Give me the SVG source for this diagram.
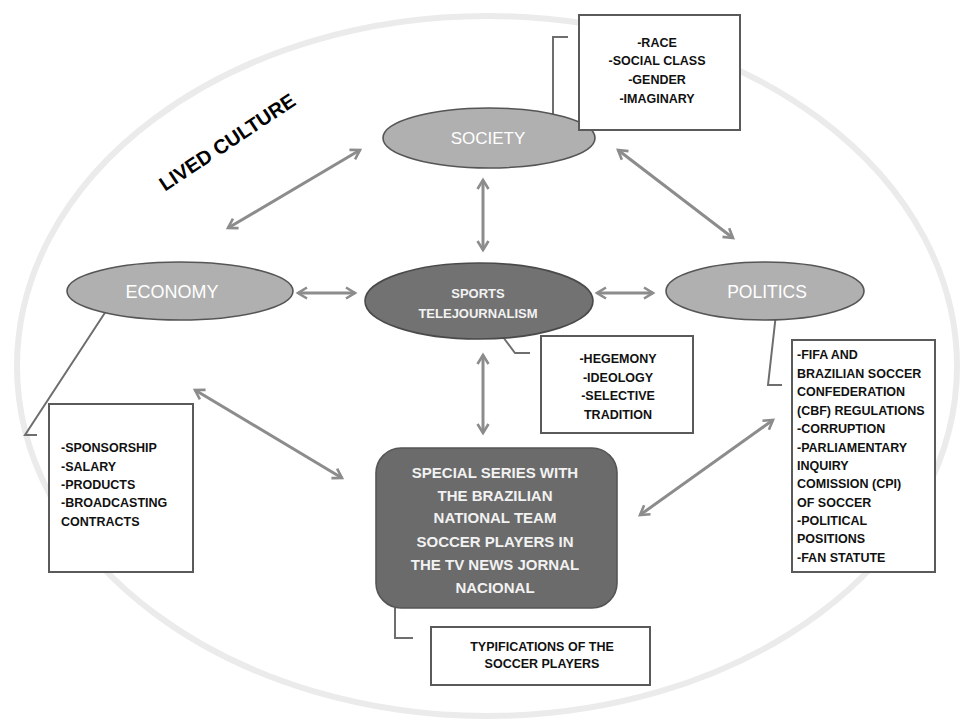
<svg xmlns="http://www.w3.org/2000/svg" width="963" height="727" viewBox="0 0 963 727">
  <style>
    .bg { fill: #ffffff; }
    .frame { fill: none; stroke: #ebebeb; stroke-width: 6; }
    .oval-light { fill: #b0b0b0; stroke: #555555; stroke-width: 1.6; }
    .oval-dark { fill: #727272; stroke: #4a4a4a; stroke-width: 1.6; }
    .core { fill: #6b6b6b; stroke: #555555; stroke-width: 1.6; }
    .note { fill: #ffffff; stroke: #5a5a5a; stroke-width: 2; }
    .arrow { fill: none; stroke: #8c8c8c; stroke-width: 3; marker-start: url(#head); marker-end: url(#head); }
    .lead { fill: none; stroke: #6e6e6e; stroke-width: 2; }
    text { font-family: "Liberation Sans", Arial, sans-serif; font-weight: bold; }
    .lbl { fill: #ffffff; font-weight: normal; text-anchor: middle; }
    .lbl-b { fill: #f2f2f2; text-anchor: middle; }
    .item { fill: #111111; font-size: 12.5px; }
    .mid { text-anchor: middle; }
  </style>
  <defs>
    <marker id="head" markerUnits="userSpaceOnUse" markerWidth="16" markerHeight="16" refX="12" refY="8" orient="auto-start-reverse">
      <path d="M3,2.5 L12,8 L3,13.5" fill="none" stroke="#8c8c8c" stroke-width="2.6" stroke-linejoin="miter"/>
    </marker>
  </defs>

  <rect class="bg" x="0" y="0" width="963" height="727"/>
  <ellipse class="frame" cx="487" cy="366" rx="470" ry="350"/>

  <text x="231" y="148" font-size="20" fill="#000000" text-anchor="middle" transform="rotate(-33.5 231 148)">LIVED CULTURE</text>

  <!-- connectors -->
  <g id="connectors">
    <line class="arrow" x1="360" y1="150" x2="228" y2="228"/>
    <line class="arrow" x1="618" y1="150" x2="733" y2="238"/>
    <line class="arrow" x1="483" y1="180" x2="483" y2="250"/>
    <line class="arrow" x1="298" y1="293" x2="355" y2="293"/>
    <line class="arrow" x1="597" y1="293" x2="653" y2="293"/>
    <line class="arrow" x1="483" y1="355" x2="483" y2="433"/>
    <line class="arrow" x1="195" y1="390" x2="342" y2="478"/>
    <line class="arrow" x1="773" y1="420" x2="640" y2="515"/>
    <polyline class="lead" points="568,37 553,37 553,133 565,147"/>
    <polyline class="lead" points="110,305 25,435 37,435"/>
    <polyline class="lead" points="500,333 515,353 530,353"/>
    <polyline class="lead" points="777,305 768,385 782,385"/>
    <polyline class="lead" points="395,608 395,638 413,638"/>
  </g>

  <g id="society">
    <ellipse class="oval-light" cx="489" cy="138" rx="106" ry="30"/>
    <text class="lbl" x="488" y="144" font-size="17">SOCIETY</text>
  </g>

  <g id="society-notes">
    <rect class="note" x="579" y="15" width="161" height="115"/>
    <text class="item mid" x="657" y="47" font-size="13">-RACE</text>
    <text class="item mid" x="657" y="65" font-size="13">-SOCIAL CLASS</text>
    <text class="item mid" x="657" y="84" font-size="13">-GENDER</text>
    <text class="item mid" x="657" y="103" font-size="13">-IMAGINARY</text>
  </g>

  <g id="economy">
    <ellipse class="oval-light" cx="180" cy="291" rx="113" ry="29"/>
    <text class="lbl" x="172" y="298" font-size="18">ECONOMY</text>
  </g>

  <g id="economy-notes">
    <rect class="note" x="49" y="404" width="144" height="168"/>
    <text class="item" x="61" y="452">-SPONSORSHIP</text>
    <text class="item" x="61" y="471">-SALARY</text>
    <text class="item" x="61" y="489">-PRODUCTS</text>
    <text class="item" x="61" y="507">-BROADCASTING</text>
    <text class="item" x="61" y="526">CONTRACTS</text>
  </g>

  <g id="sports-telejournalism">
    <ellipse class="oval-dark" cx="479" cy="301" rx="114" ry="38"/>
    <text class="lbl-b" x="478" y="298" font-size="13">SPORTS</text>
    <text class="lbl-b" x="478" y="318" font-size="13">TELEJOURNALISM</text>
  </g>

  <g id="sports-notes">
    <rect class="note" x="541" y="336" width="152" height="97"/>
    <text class="item mid" x="618" y="363" font-size="13">-HEGEMONY</text>
    <text class="item mid" x="618" y="382" font-size="13">-IDEOLOGY</text>
    <text class="item mid" x="618" y="400" font-size="13">-SELECTIVE</text>
    <text class="item mid" x="618" y="419" font-size="13">TRADITION</text>
  </g>

  <g id="politics">
    <ellipse class="oval-light" cx="765" cy="291" rx="99" ry="29"/>
    <text class="lbl" x="767" y="298" font-size="17.5">POLITICS</text>
  </g>

  <g id="politics-notes">
    <rect class="note" x="792" y="340" width="143" height="232"/>
    <text class="item" x="797" y="359">-FIFA AND</text>
    <text class="item" x="797" y="378">BRAZILIAN SOCCER</text>
    <text class="item" x="797" y="396">CONFEDERATION</text>
    <text class="item" x="797" y="415">(CBF) REGULATIONS</text>
    <text class="item" x="797" y="433">-CORRUPTION</text>
    <text class="item" x="797" y="452">-PARLIAMENTARY</text>
    <text class="item" x="797" y="470">INQUIRY</text>
    <text class="item" x="797" y="488">COMISSION (CPI)</text>
    <text class="item" x="797" y="507">OF SOCCER</text>
    <text class="item" x="797" y="525">-POLITICAL</text>
    <text class="item" x="797" y="543">POSITIONS</text>
    <text class="item" x="797" y="562">-FAN STATUTE</text>
  </g>

  <g id="special-series">
    <rect class="core" x="376" y="448" width="241" height="160" rx="25" ry="25"/>
    <text class="lbl-b" x="495" y="478" font-size="15">SPECIAL SERIES WITH</text>
    <text class="lbl-b" x="495" y="501" font-size="15">THE BRAZILIAN</text>
    <text class="lbl-b" x="495" y="523" font-size="15">NATIONAL TEAM</text>
    <text class="lbl-b" x="495" y="547" font-size="15">SOCCER PLAYERS IN</text>
    <text class="lbl-b" x="495" y="570" font-size="15">THE TV NEWS JORNAL</text>
    <text class="lbl-b" x="495" y="593" font-size="15">NACIONAL</text>
  </g>

  <g id="typifications">
    <rect class="note" x="431" y="627" width="219" height="58"/>
    <text class="item mid" x="542" y="651">TYPIFICATIONS OF THE</text>
    <text class="item mid" x="542" y="668">SOCCER PLAYERS</text>
  </g>
</svg>
